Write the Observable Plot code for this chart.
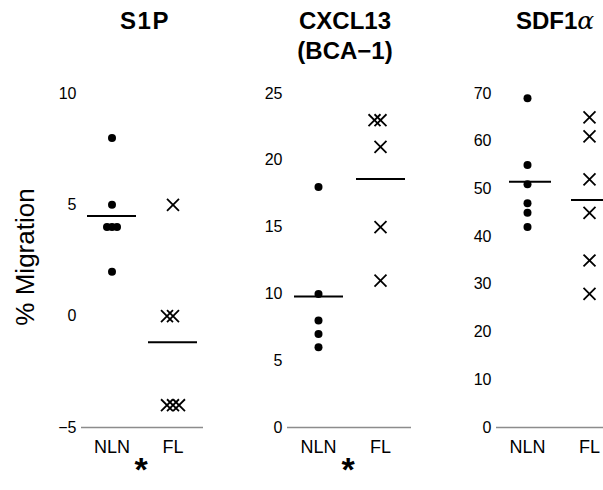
<!DOCTYPE html>
<html>
<head>
<meta charset="utf-8">
<script src="https://cdn.jsdelivr.net/npm/d3@7"></script>
<script src="https://cdn.jsdelivr.net/npm/@observablehq/plot@0.6"></script>
<style>
html, body { margin: 0; padding: 0; background: #fff; overflow: hidden; }
#root { position: relative; width: 603px; height: 490px; overflow: hidden;
  font-family: "Liberation Sans", Arial, Helvetica, sans-serif; color: #000; }
.panel { position: absolute; top: 0; }
.title { position: absolute; width: 180px; text-align: center; font-weight: bold;
  font-size: 24px; line-height: 30px; white-space: nowrap; }
.title .alpha { font-weight: normal; font-family: "DejaVu Serif", "Liberation Serif", serif; font-style: italic; font-size: 25px; }
.star { position: absolute; width: 40px; text-align: center; font-weight: bold;
  font-size: 34px; line-height: 10px; }
.ylab { position: absolute; font-size: 26px; line-height: 26px; white-space: nowrap;
  transform: translate(-50%, -50%) rotate(-90deg); }
</style>
</head>
<body>
<div id="root">
  <div class="title" style="left:55px; top:6px; letter-spacing:1.5px;">S1P</div>
  <div class="title" style="left:255px; top:6px;">CXCL13<br>(BCA−1)</div>
  <div class="title" style="left:465px; top:6px;">SDF1<span class="alpha">α</span></div>
  <div class="ylab" style="left:25px; top:257px;">% Migration</div>
  <div class="star" style="left:121px; top:464px;">*</div>
  <div class="star" style="left:328px; top:464px;">*</div>
</div>
<script>
// Groups (x categories)
const groups = ["NLN", "FL"];

// S1P panel values (% migration)
const s1pNLN = [8, 5, 4, 4, 4, 2];
const s1pFL = [5, 0, 0, -4, -4, -4];
const s1pDomain = [-5, 10];
const s1pTicks = [-5, 0, 5, 10];

// CXCL13 (BCA-1) panel values
const cxclNLN = [18, 10, 8, 7, 6];
const cxclFL = [23, 23, 21, 15, 11];
const cxclDomain = [0, 25];
const cxclTicks = [0, 5, 10, 15, 20, 25];

// SDF1alpha panel values
const sdfNLN = [69, 55, 51, 47, 45, 42];
const sdfFL = [65, 61, 52, 45, 35, 28];
const sdfDomain = [0, 70];
const sdfTicks = [0, 10, 20, 30, 40, 50, 60, 70];

const AXIS_GRAY = "#8c8c8c";

function panel({nln, fl, domain, ticks, left, width, marginLeft, insetL, insetR}) {
  const nlnRows = nln.map(v => ({group: "NLN", value: v}));
  const flRows = fl.map(v => ({group: "FL", value: v}));
  const means = [
    {group: "NLN", mean: d3.mean(nln)},
    {group: "FL", mean: d3.mean(fl)}
  ];
  const svg = Plot.plot({
    width, height: 490,
    marginTop: 93, marginBottom: 63, marginLeft, marginRight: 0,
    style: {fontFamily: "'Liberation Sans', Arial, Helvetica, sans-serif", color: "#000", background: "transparent", overflow: "visible"},
    fx: {domain: groups, padding: 0, label: null},
    y: {domain, label: null},
    marks: [
      Plot.ruleY([domain[0]], {stroke: AXIS_GRAY, strokeWidth: 1.3}),
      Plot.axisY({ticks, tickSize: 0, tickPadding: 5, fontSize: 16, label: null, line: true, stroke: AXIS_GRAY, strokeWidth: 1.3, fill: "#000"}),
      Plot.axisFx({anchor: "bottom", tickSize: 0, tickPadding: 13, fontSize: 18, label: null, fill: "#000"}),
      Plot.ruleY(means, {fx: "group", y: "mean", stroke: "#000", strokeWidth: 2, insetLeft: insetL, insetRight: insetR}),
      Plot.dot(nlnRows, Plot.dodgeX({anchor: "middle", padding: -3, fx: "group", y: "value", r: 4, fill: "#000", stroke: "none"})),
      Plot.dot(flRows, Plot.dodgeX({anchor: "middle", padding: -5, fx: "group", y: "value", r: 5.5, symbol: "times", stroke: "#000", strokeWidth: 1.8}))
    ]
  });
  svg.classList.add("panel");
  svg.style.left = left + "px";
  return svg;
}

const root = document.getElementById("root");
root.appendChild(panel({nln: s1pNLN, fl: s1pFL, domain: s1pDomain, ticks: s1pTicks, left: 0, width: 203, marginLeft: 80, insetL: 6, insetR: 6}));
root.appendChild(panel({nln: cxclNLN, fl: cxclFL, domain: cxclDomain, ticks: cxclTicks, left: 247, width: 164, marginLeft: 40, insetL: 7, insetR: 6}));
root.appendChild(panel({nln: sdfNLN, fl: sdfFL, domain: sdfDomain, ticks: sdfTicks, left: 456, width: 164, marginLeft: 40, insetL: 13, insetR: 7}));
</script>
</body>
</html>
